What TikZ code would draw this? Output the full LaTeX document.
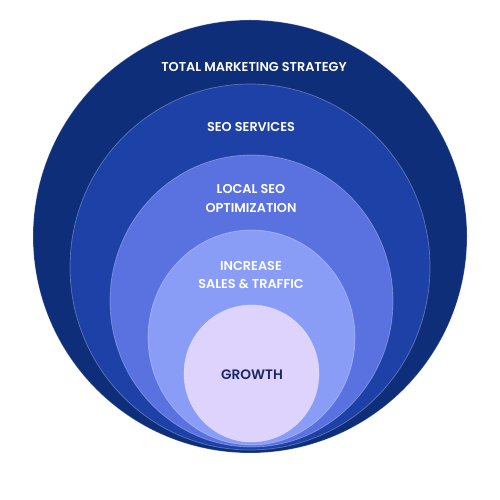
\documentclass[tikz,border=0pt]{standalone}
\usepackage{fontspec}
\setmainfont{Poppins SemiBold}
\newfontfamily\growthfont{Poppins SemiBold}
\usetikzlibrary{shapes.geometric}

\definecolor{ringtotal}{HTML}{0E2E7A}
\definecolor{ringseo}{HTML}{1E41A8}
\definecolor{ringlocal}{HTML}{5A72E0}
\definecolor{ringsales}{HTML}{8A9DF6}
\definecolor{ringgrowth}{HTML}{DDD3FC}
\definecolor{growthtext}{HTML}{1A2868}

\begin{document}
\begin{tikzpicture}
\tikzset{ ring/.style={ellipse, draw=white, draw opacity=0.3, line width=0.4pt, inner sep=0pt, outer sep=0pt},
  lbl/.style={text=white, font=\fontsize{7.3}{10.6}\selectfont, align=center, inner sep=0pt},
}

%\draw [lightgray, dashed](0,0) grid (10,10);
\useasboundingbox (0,0) rectangle (10,10);

\node [ring, fill=ringtotal,  minimum width=8.68cm, minimum height=8.66cm] (total)  at (5.00,5.27) {};
\node [ring, fill=ringseo,    minimum width=7.20cm, minimum height=7.32cm] (seo)    at (5.00,4.66) {};
\node [ring, fill=ringlocal,  minimum width=5.66cm, minimum height=5.84cm] (local)  at (5.03,3.98) {};
\node [ring, fill=ringsales,  minimum width=4.14cm, minimum height=4.30cm] (sales)  at (5.03,3.25) {};
\node [ring, fill=ringgrowth, minimum width=2.70cm, minimum height=2.74cm] (growth) at (5.03,2.53) {};

\node [lbl] (totaltxt)  at (5.08,8.66) {TOTAL MARKETING STRATEGY};
\node [lbl] (seotxt)    at (5.02,7.46) {SEO SERVICES};
\node [lbl] (localtxt)  at (5.02,6.03) {LOCAL SEO\\OPTIMIZATION};
\node [lbl] (salestxt)  at (5.02,4.50) {INCREASE\\SALES \& TRAFFIC};
\node [lbl, text=growthtext, font=\fontsize{7.8}{10.6}\growthfont] (growthtxt) at (5.04,2.50) {GROWTH};

\end{tikzpicture}
\end{document}
